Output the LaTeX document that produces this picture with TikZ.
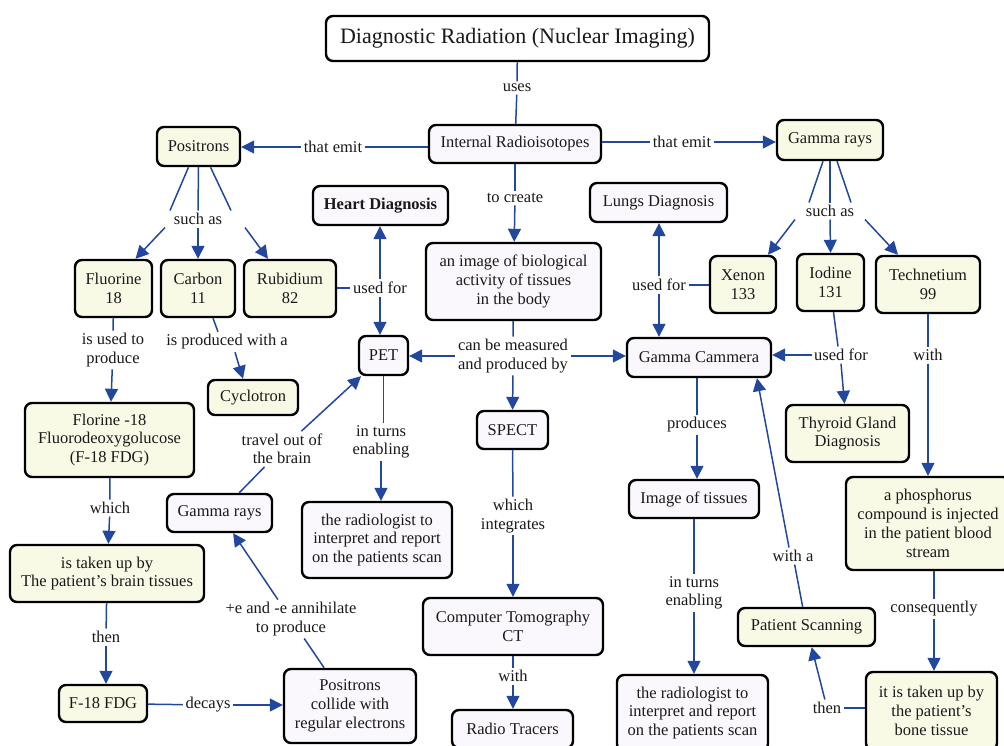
\documentclass[tikz,border=0pt]{standalone}
\usepackage{fontspec}
\setmainfont{Liberation Serif}
\usetikzlibrary{arrows.meta,calc}
\definecolor{cream}{RGB}{249,250,230}
\definecolor{lav}{RGB}{250,248,253}
\definecolor{ink}{RGB}{25,25,25}
\definecolor{linkblue}{RGB}{34,72,158}
\tikzset{
  box/.style={draw=black, line width=2.4pt, rounded corners=7pt, align=center,
    inner sep=1pt, text=ink, font=\fontsize{16.5}{18.8}\selectfont},
  cbox/.style={box, fill=cream},
  lbox/.style={box, fill=lav},
  lbl/.style={align=center, inner sep=2.5pt, text=ink, font=\fontsize{16.5}{18.5}\selectfont},
  link/.style={draw=linkblue, line width=1.5pt},
  arr/.style={link, -{Triangle[length=13pt,width=13pt]}},
}
\begin{document}
\begin{tikzpicture}[x=1pt,y=-1pt]
\useasboundingbox[fill=white] (0,0) rectangle (1004,745);

% ---------- concepts ----------
\node[box, fill=white, minimum width=383pt, minimum height=45pt, font=\fontsize{22}{26}\selectfont]
  (title) at (517.5,38.5) {Diagnostic Radiation (Nuclear Imaging)};
\node[lbox, minimum width=172pt, minimum height=38pt] (ir) at (515,144) {Internal Radioisotopes};
\node[cbox, minimum width=83pt, minimum height=39pt] (pos) at (198.5,146.5) {Positrons};
\node[cbox, minimum width=106pt, minimum height=40pt] (gam) at (830,140) {Gamma rays};
\node[lbox, minimum width=135pt, minimum height=39pt] (heart) at (380.5,205.5) {\textbf{Heart Diagnosis}};
\node[lbox, minimum width=137pt, minimum height=39pt] (lungs) at (658.5,202.5) {Lungs Diagnosis};
\node[lbox, minimum width=175pt, minimum height=77pt] (image) at (513.5,281.5)
  {an image of biological\\activity of tissues\\in the body};
\node[cbox, minimum width=77pt, minimum height=57pt] (flu) at (113.5,288.5) {Fluorine\\18};
\node[cbox, minimum width=74pt, minimum height=57pt] (carb) at (198,288.5) {Carbon\\11};
\node[cbox, minimum width=92pt, minimum height=57pt] (rub) at (290,288.5) {Rubidium\\82};
\node[cbox, minimum width=66pt, minimum height=57pt] (xen) at (743,284.5) {Xenon\\133};
\node[cbox, minimum width=67pt, minimum height=57pt] (iod) at (830.5,282.5) {Iodine\\131};
\node[cbox, minimum width=104pt, minimum height=57pt] (tech) at (928,284.5) {Technetium\\99};
\node[lbox, minimum width=49pt, minimum height=39pt] (pet) at (383.5,355.5) {PET};
\node[lbox, minimum width=144pt, minimum height=39pt] (gcam) at (699,357.5) {Gamma Cammera};
\node[cbox, minimum width=90pt, minimum height=35pt] (cyc) at (253,397.5) {Cyclotron};
\node[cbox, minimum width=169pt, minimum height=74pt] (fdg) at (109.5,440)
  {Florine -18\\Fluorodeoxygolucose\\(F-18 FDG)};
\node[lbox, minimum width=71pt, minimum height=38pt] (spect) at (512.5,430) {SPECT};
\node[cbox, minimum width=123pt, minimum height=57pt] (thy) at (847.5,433.5) {Thyroid Gland\\Diagnosis};
\node[lbox, minimum width=130pt, minimum height=38pt] (imgt) at (694,499) {Image of tissues};
\node[lbox, minimum width=105pt, minimum height=38pt] (grays) at (219.5,513) {Gamma rays};
\node[lbox, minimum width=150pt, minimum height=76pt] (radL) at (377,540)
  {the radiologist to\\interpret and report\\on the patients scan};
\node[cbox, minimum width=164pt, minimum height=93pt] (phos) at (928,523.5)
  {a phosphorus\\compound is injected\\in the patient blood\\stream};
\node[cbox, minimum width=194pt, minimum height=57pt] (brain) at (107,573.5)
  {is taken up by\\The patient’s brain tissues};
\node[lbox, minimum width=180pt, minimum height=57pt] (ct) at (513,626.5) {Computer Tomography\\CT};
\node[cbox, minimum width=137pt, minimum height=38pt] (pscan) at (806.5,627) {Patient Scanning};
\node[cbox, minimum width=88pt, minimum height=37pt] (f18) at (103,703.5) {F-18 FDG};
\node[lbox, minimum width=132pt, minimum height=74pt] (pcoll) at (350,706)
  {Positrons\\collide with\\regular electrons};
\node[lbox, minimum width=121pt, minimum height=38pt] (radio) at (512.5,729) {Radio Tracers};
\node[lbox, minimum width=151pt, minimum height=76pt] (radR) at (692.5,713)
  {the radiologist to\\interpret and report\\on the patients scan};
\node[cbox, minimum width=131pt, minimum height=78pt] (bone) at (931.5,711)
  {it is taken up by\\the patient’s\\bone tissue};

% ---------- linking phrases ----------
\node[lbl] (uses) at (517,88) {uses};
\node[lbl] (teL) at (333,147) {that emit};
\node[lbl] (teR) at (682,142) {that emit};
\node[lbl] (saL) at (198,219) {such as};
\node[lbl] (saR) at (830,211) {such as};
\node[lbl] (create) at (515,198) {to create};
\node[lbl] (ufL) at (380,288) {used for};
\node[lbl] (ufR) at (659,285) {used for};
\node[lbl] (cbm) at (513,356) {can be measured\\and produced by};
\node[lbl] (iutp) at (113,350) {is used to\\produce};
\node[lbl] (ipw) at (227,342) {is produced with a};
\node[lbl] (ufI) at (841,355) {used for};
\node[lbl] (withT) at (928,355) {with};
\node[lbl] (travel) at (282,449) {travel out of\\the brain};
\node[lbl] (itL) at (381,442) {in turns\\enabling};
\node[lbl] (which) at (110,508) {which};
\node[lbl] (whint) at (513,516) {which\\integrates};
\node[lbl] (produces) at (697,425) {produces};
\node[lbl] (itR) at (694,593) {in turns\\enabling};
\node[lbl] (witha) at (793,556) {with a};
\node[lbl] (conseq) at (934,609) {consequently};
\node[lbl] (annih) at (291,619) {+e and -e annihilate\\to produce};
\node[lbl] (thenL) at (106,637) {then};
\node[lbl] (withC) at (513,676) {with};
\node[lbl] (decays) at (208,705) {decays};
\node[lbl] (thenR) at (827,708) {then};

% ---------- connectors ----------
\draw[link] (title) -- (uses);
\draw[link] (uses) -- (ir);

\draw[link] (teL -| ir.west) -- (teL.east);
\draw[arr] (teL.west) -- (teL -| pos.east);
\draw[link] (teR -| ir.east) -- (teR.west);
\draw[arr] (teR.east) -- (teR -| gam.west);

\draw[link] (ir) -- (create);
\draw[arr] (create) -- (image);

% positrons fan
\draw[link] ([xshift=-10pt]pos.south) -- ($(saL.north)+(-28,0)$);
\draw[link] (pos.south) -- (saL.north);
\draw[link] ([xshift=12pt]pos.south) -- ($(saL.north)+(33,0)$);
\draw[arr] ($(saL.south)+(-33,0)$) -- ([xshift=22pt]flu.north);
\draw[arr] (saL.south) -- (carb.north);
\draw[arr] ($(saL.south)+(47,0)$) -- ([xshift=-22pt]rub.north);

% gamma rays fan
\draw[link] ([xshift=-7pt]gam.south) -- ($(saR.north)+(-21,0)$);
\draw[link] (gam.south) -- (saR.north);
\draw[link] ([xshift=7pt]gam.south) -- ($(saR.north)+(21,0)$);
\draw[arr] ($(saR.south)+(-35,0)$) -- ([xshift=25pt]xen.north);
\draw[arr] (saR.south) -- (iod.north);
\draw[arr] ($(saR.south)+(35,0)$) -- ([xshift=-30pt]tech.north);

% used for (rubidium / xenon)
\draw[link] (ufL -| rub.east) -- (ufL.west);
\draw[arr] (ufL.north) -- (ufL.north |- heart.south);
\draw[arr] (ufL.south) -- (ufL.south |- pet.north);
\draw[link] (ufR -| xen.west) -- (ufR.east);
\draw[arr] (ufR.north) -- (ufR.north |- lungs.south);
\draw[arr] (ufR.south) -- (ufR.south |- gcam.north);

% measured and produced by
\draw[link] (image) -- (cbm);
\draw[arr] (cbm.west) -- (cbm.west -| pet.east);
\draw[arr] (cbm.east) -- (cbm.east -| gcam.west);
\draw[arr] (cbm) -- (spect);

% fluorine / carbon
\draw[link] (flu) -- (iutp);
\draw[arr] (iutp) -- (fdg);
\draw[link] ([xshift=15pt]carb.south) -- ([xshift=-9pt]ipw.north);
\draw[arr] ([xshift=8pt]ipw.south) -- ([xshift=-10pt]cyc.north);

% iodine / technetium
\draw[link] ([xshift=3pt]iod.south) -- ([xshift=-3pt]ufI.north);
\draw[arr] (ufI.west) -- (ufI.west -| gcam.east);
\draw[arr] (ufI.south) -- ([xshift=-3pt]thy.north);
\draw[link] (tech) -- (withT);
\draw[arr] (withT) -- (withT |- phos.north);

% PET branch
\draw[link] (grays) -- (travel);
\draw[arr] (travel) -- (pet);
\draw[link] (pet) -- (pet |- itL.north);
\draw[arr] (itL.south) -- (itL.south |- radL.north);

% FDG chain
\draw[link] (fdg) -- (which);
\draw[arr] (which) -- (brain);
\draw[link] (brain) -- (thenL);
\draw[arr] (thenL) -- (thenL |- f18.north);
\draw[link] (f18) -- (decays);
\draw[arr] (decays) -- (decays -| pcoll.west);
\draw[link] (pcoll) -- (annih);
\draw[arr] (annih) -- (grays);

% SPECT branch
\draw[link] (spect) -- (whint);
\draw[arr] (whint) -- (ct);
\draw[link] (ct) -- (withC);
\draw[arr] (withC) -- (withC |- radio.north);

% gamma camera branch
\draw[link] (gcam.south -| produces) -- (produces);
\draw[arr] (produces) -- (produces |- imgt.north);
\draw[link] (imgt) -- (imgt |- itR.north);
\draw[arr] (itR) -- (itR |- radR.north);

% technetium chain
\draw[link] (conseq |- phos.south) -- (conseq);
\draw[arr] (conseq) -- (conseq |- bone.north);
\draw[link] (thenR -| bone.west) -- (thenR.east);
\draw[arr] (thenR) -- (pscan);
\draw[link] (pscan) -- (witha);
\draw[arr] ([xshift=-4pt]witha.north) -- ([xshift=58pt]gcam.south);
\end{tikzpicture}
\end{document}
